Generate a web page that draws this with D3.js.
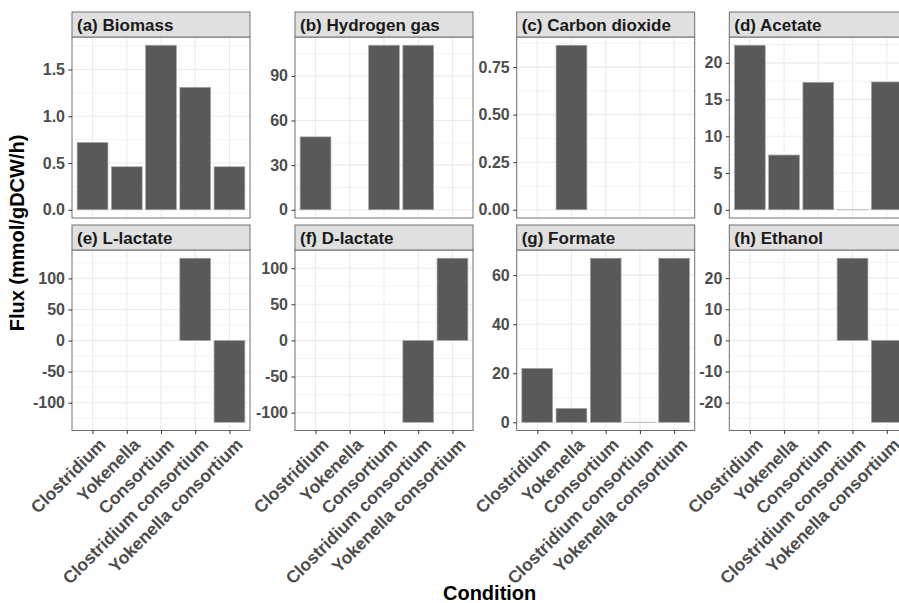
<!DOCTYPE html>
<html>
<head>
<meta charset="utf-8">
<script src="https://cdn.jsdelivr.net/npm/d3@7"></script>
<style>
  html, body { margin: 0; padding: 0; background: #fff; }
  svg { display: block; }
  text { font-family: "Liberation Sans", Arial, Helvetica, sans-serif; font-weight: bold; }
</style>
</head>
<body>
<svg id="chart" width="899" height="603"></svg>
<script>
// Conditions on the shared x axis
const conditions = ["Clostridium", "Yokenella", "Consortium", "Clostridium consortium", "Yokenella consortium"];

// Flux per condition (mmol/gDCW/h); null = not produced / not reported
const biomass   = [0.72, 0.46, 1.76, 1.31, 0.46];
const hydrogen  = [49, null, 110.6, 110.6, null];
const co2       = [null, 0.865, null, null, null];
const acetate   = [22.4, 7.45, 17.35, 0, 17.4];
const lLactate  = [null, null, null, 132.5, -131.5];
const dLactate  = [null, null, null, -113.3, 113.8];
const formate   = [22.0, 5.7, 66.9, 0, 66.9];
const ethanol   = [null, null, null, 26.4, -26.3];

// Facet titles
const titles = ["(a) Biomass", "(b) Hydrogen gas", "(c) Carbon dioxide", "(d) Acetate",
                "(e) L-lactate", "(f) D-lactate", "(g) Formate", "(h) Ethanol"];

// Y tick values per facet
const ticksA = [0, 0.5, 1.0, 1.5];
const ticksB = [0, 30, 60, 90];
const ticksC = [0, 0.25, 0.5, 0.75];
const ticksD = [0, 5, 10, 15, 20];
const ticksE = [-100, -50, 0, 50, 100];
const ticksF = [-100, -50, 0, 50, 100];
const ticksG = [0, 20, 40, 60];
const ticksH = [-20, -10, 0, 10, 20];

const tickFormats = [".1f", "d", ".2f", "d", "d", "d", "d", "d"];

const facets = [biomass, hydrogen, co2, acetate, lLactate, dLactate, formate, ethanol].map((vals, i) => ({
  title: titles[i],
  values: vals,
  ticks: [ticksA, ticksB, ticksC, ticksD, ticksE, ticksF, ticksG, ticksH][i],
  fmt: tickFormats[i]
}));

// Layout of the facet grid
const colLefts = [72, 295, 516.7, 729.3];
const panelW = 178;
const rowTops = [12, 225];
const stripH = 25;
const panelH = [181, 180.5];

const svg = d3.select("#chart");
svg.append("rect").attr("width", 899).attr("height", 603).attr("fill", "#fff");

const gridCol = "#EBEBEB";
const borderCol = "#707070";
const textGray = "#4D4D4D";

facets.forEach((f, i) => {
  const col = i % 4, row = Math.floor(i / 4);
  const x0 = colLefts[col];
  const sTop = rowTops[row];
  const pTop = sTop + stripH;
  const pBot = pTop + panelH[row];

  const g = svg.append("g");

  // x scale: discrete positions with 0.6 unit expansion on each side
  const x = d3.scalePoint().domain(conditions).range([x0, x0 + panelW]).padding(0.6);
  const step = x.step();
  const barW = step * 0.9;

  // y scale: data range incl. zero, expanded by 5%
  const vals = f.values.filter(v => v !== null);
  const lo = Math.min(0, d3.min(vals)), hi = Math.max(0, d3.max(vals));
  const pad = (hi - lo) * 0.05;
  const y = d3.scaleLinear().domain([lo - pad, hi + pad]).range([pBot, pTop]);

  // panel background
  g.append("rect").attr("x", x0).attr("y", pTop).attr("width", panelW).attr("height", pBot - pTop).attr("fill", "#fff");

  // minor grid lines halfway between major ticks
  const t = f.ticks;
  const dt = t[1] - t[0];
  const minor = [];
  for (let v = t[0] - dt / 2; v <= y.domain()[1]; v += dt) {
    if (v >= y.domain()[0]) minor.push(v);
  }
  g.selectAll(".minor").data(minor).join("line")
    .attr("x1", x0).attr("x2", x0 + panelW)
    .attr("y1", d => y(d)).attr("y2", d => y(d))
    .attr("stroke", gridCol).attr("stroke-width", 0.6);

  // major grid lines
  g.selectAll(".major").data(t).join("line")
    .attr("x1", x0).attr("x2", x0 + panelW)
    .attr("y1", d => y(d)).attr("y2", d => y(d))
    .attr("stroke", gridCol).attr("stroke-width", 1.1);
  g.selectAll(".vmajor").data(conditions).join("line")
    .attr("x1", d => x(d)).attr("x2", d => x(d))
    .attr("y1", pTop).attr("y2", pBot)
    .attr("stroke", gridCol).attr("stroke-width", 1.1);

  // bars (zero-valued bars keep a hairline height so their outline shows)
  const bars = conditions.map((c, j) => ({ c, v: f.values[j] })).filter(d => d.v !== null);
  g.selectAll(".bar").data(bars).join("rect")
    .attr("x", d => x(d.c) - barW / 2)
    .attr("width", barW)
    .attr("y", d => Math.min(y(d.v), y(0)))
    .attr("height", d => Math.max(0.01, Math.abs(y(d.v) - y(0))))
    .attr("fill", "#595959")
    .attr("stroke", "#a8a8a8")
    .attr("stroke-width", 0.7);

  // panel border
  g.append("rect").attr("x", x0).attr("y", pTop).attr("width", panelW).attr("height", pBot - pTop)
    .attr("fill", "none").attr("stroke", borderCol).attr("stroke-width", 1);

  // strip
  g.append("rect").attr("x", x0).attr("y", sTop).attr("width", panelW).attr("height", stripH)
    .attr("fill", "#E0E0E0").attr("stroke", borderCol).attr("stroke-width", 1);
  g.append("text").attr("x", x0 + 5).attr("y", sTop + stripH / 2).attr("dy", "0.36em")
    .attr("font-size", "17px").attr("fill", "#1a1a1a").text(f.title);

  // y axis
  const fmt = d3.format(f.fmt);
  const yAxis = d3.axisLeft(y).tickValues(t).tickFormat(d => fmt(d).replace("\u2212", "-"))
    .tickSize(3.5).tickPadding(3.5);
  const ya = g.append("g").attr("transform", `translate(${x0},0)`).call(yAxis);
  ya.select(".domain").remove();
  ya.selectAll(".tick line").attr("stroke", "#333").attr("stroke-width", 1);
  ya.selectAll(".tick text").attr("font-size", "16px").attr("fill", textGray)
    .attr("font-family", "Liberation Sans, Arial, sans-serif").attr("font-weight", "bold");

  // x axis on the bottom row only
  if (row === 1) {
    const xAxis = d3.axisBottom(x).tickSize(3.5).tickFormat("");
    const xa = g.append("g").attr("transform", `translate(0,${pBot})`).call(xAxis);
    xa.select(".domain").remove();
    xa.selectAll(".tick line").attr("stroke", "#333").attr("stroke-width", 1);
    g.selectAll(".xlab").data(conditions).join("text")
      .attr("transform", d => `translate(${x(d) + 5},${pBot + 6}) rotate(-45)`)
      .attr("text-anchor", "end").attr("dy", "0.75em")
      .attr("font-size", "17.5px").attr("fill", textGray)
      .text(d => d);
  }
});

// axis titles
svg.append("text")
  .attr("transform", "translate(24,233) rotate(-90)")
  .attr("text-anchor", "middle")
  .attr("font-size", "20px").attr("fill", "#000")
  .text("Flux (mmol/gDCW/h)");

svg.append("text")
  .attr("x", (colLefts[0] + colLefts[3] + panelW) / 2).attr("y", 600)
  .attr("text-anchor", "middle")
  .attr("font-size", "20px").attr("fill", "#000")
  .text("Condition");
</script>
</body>
</html>
